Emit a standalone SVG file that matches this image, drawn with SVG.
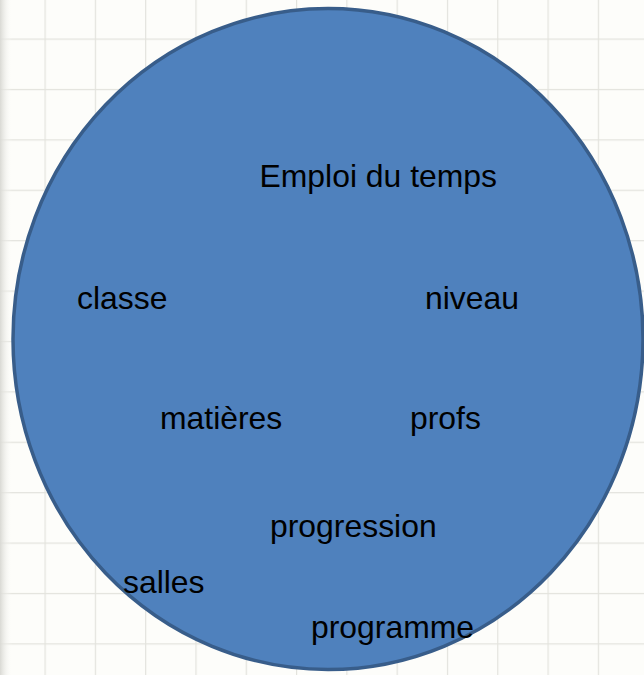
<svg xmlns="http://www.w3.org/2000/svg" width="644" height="675" viewBox="0 0 644 675">
  <style>
    .lbl { font-family: "Liberation Sans", Arial, sans-serif; font-size: 31.9px; fill: #000000; }
    .blob { fill: #4f81bd; stroke: #385d8a; stroke-width: 3.5; }
  </style>
  <defs>
    <pattern id="grid" patternUnits="userSpaceOnUse" x="44.5" y="38.5" width="50.3" height="50.4">
      <path d="M0.5 0 V50.4 M0 0.5 H50.3" fill="none" stroke="#e3e3dd" stroke-width="1.4"/>
    </pattern>
    <linearGradient id="edge" x1="0" y1="0" x2="1" y2="0">
      <stop offset="0" stop-color="#d9d9d4"/>
      <stop offset="1" stop-color="#fdfdfa" stop-opacity="0"/>
    </linearGradient>
  </defs>
  <g id="background">
    <rect x="0" y="0" width="644" height="675" fill="#fdfdfa"/>
    <rect x="0" y="0" width="644" height="675" fill="url(#grid)"/>
    <rect x="0" y="0" width="12" height="675" fill="url(#edge)"/>
  </g>
  <g id="connectors"/>
  <g id="circle">
    <ellipse class="blob" cx="328" cy="339" rx="315" ry="330.5"/>
  </g>
  <g id="node-emploi"><text class="lbl" x="259.5" y="187">Emploi du temps</text></g>
  <g id="node-classe"><text class="lbl" x="77" y="309">classe</text></g>
  <g id="node-niveau"><text class="lbl" x="425" y="309">niveau</text></g>
  <g id="node-matieres"><text class="lbl" x="160" y="429">matières</text></g>
  <g id="node-profs"><text class="lbl" x="410" y="429">profs</text></g>
  <g id="node-progression"><text class="lbl" x="270" y="537">progression</text></g>
  <g id="node-salles"><text class="lbl" x="123" y="593">salles</text></g>
  <g id="node-programme"><text class="lbl" x="311" y="638">programme</text></g>
</svg>
